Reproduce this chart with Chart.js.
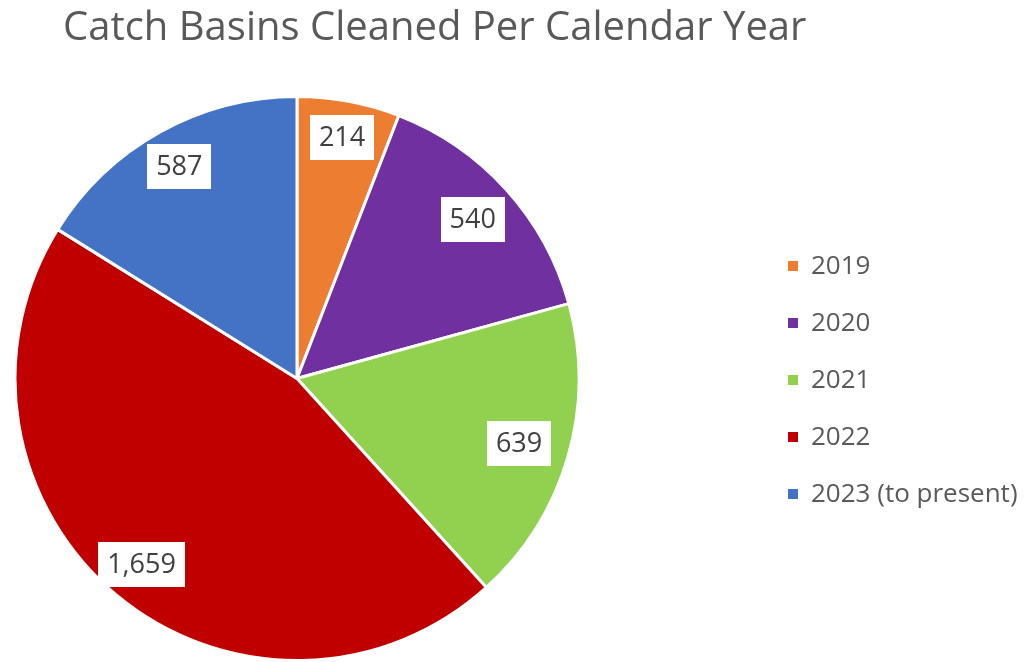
<!DOCTYPE html>
<html>
<head>
<meta charset="utf-8">
<script src="https://cdn.jsdelivr.net/npm/chart.js@4/dist/chart.umd.min.js"></script>
<style>
html,body{margin:0;padding:0;background:#fff;}
#wrap{position:relative;width:1031px;height:662px;}
</style>
</head>
<body>
<div id="wrap"><canvas id="c" width="1031" height="662"></canvas></div>
<script>
const titleText = "Catch Basins Cleaned Per Calendar Year";
const categories = ["2019", "2020", "2021", "2022", "2023 (to present)"];
const values = [214, 540, 639, 1659, 587];
const colors = ["#ED7D31", "#7030A0", "#92D050", "#C00000", "#4472C4"];
const labelRadiusFactor = [0.87, 0.84, 0.82, 0.86, 0.86];

const FONT = "'Open Sans', 'Noto Sans', sans-serif";

const overlay = {
  id: 'overlay',
  afterDraw(chart) {
    const ctx = chart.ctx;
    ctx.save();
    // title
    ctx.fillStyle = '#595959';
    ctx.font = '40px ' + FONT;
    ctx.textBaseline = 'alphabetic';
    ctx.textAlign = 'left';
    ctx.fillText(titleText, 63, 40);

    // data labels
    const meta = chart.getDatasetMeta(0);
    meta.data.forEach((arc, i) => {
      const p = arc.getProps(['x','y','startAngle','endAngle','outerRadius'], true);
      const mid = (p.startAngle + p.endAngle) / 2;
      const r = p.outerRadius * labelRadiusFactor[i];
      const cx = p.x + Math.cos(mid) * r;
      const cy = p.y + Math.sin(mid) * r;
      const txt = values[i].toLocaleString('en-US');
      ctx.font = '27px ' + FONT;
      const w = ctx.measureText(txt).width + 18;
      const h = 45;
      ctx.fillStyle = '#ffffff';
      ctx.fillRect(Math.round(cx - w/2), Math.round(cy - h/2), Math.round(w), h);
      ctx.fillStyle = '#404040';
      ctx.textAlign = 'center';
      ctx.textBaseline = 'middle';
      ctx.fillText(txt, cx, cy + 1);
    });

    // legend
    const lx = 788, ly0 = 266, step = 57;
    categories.forEach((c, i) => {
      const y = ly0 + i * step;
      ctx.fillStyle = colors[i];
      ctx.fillRect(lx, y - 5, 10, 10);
      ctx.fillStyle = '#595959';
      ctx.font = '26px ' + FONT;
      ctx.textAlign = 'left';
      ctx.textBaseline = 'middle';
      ctx.fillText(c, lx + 23, y + 1);
    });
    ctx.restore();
  }
};

new Chart(document.getElementById('c'), {
  type: 'pie',
  data: {
    labels: categories,
    datasets: [{
      data: values,
      backgroundColor: colors,
      borderColor: '#ffffff',
      borderWidth: 3
    }]
  },
  options: {
    responsive: false,
    animation: false,
    layout: { padding: { left: 12, top: 95, right: 449, bottom: 0 } },
    plugins: {
      legend: { display: false },
      title: { display: false },
      tooltip: { enabled: false }
    }
  },
  plugins: [overlay]
});
</script>
</body>
</html>
